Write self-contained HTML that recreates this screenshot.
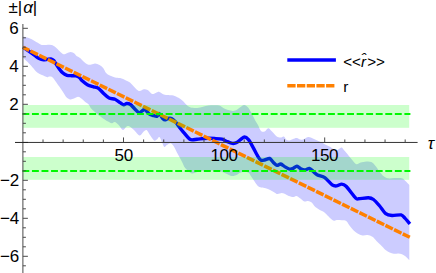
<!DOCTYPE html>
<html><head><meta charset="utf-8"><style>
html,body{margin:0;padding:0;background:#fff;}
body{width:436px;height:273px;overflow:hidden;position:relative;font-family:"Liberation Sans",sans-serif;color:#000;}
svg{position:absolute;left:0;top:0;}
.t{position:absolute;font-size:17px;line-height:17px;white-space:nowrap;}
</style></head><body>
<svg width="436" height="273" viewBox="0 0 436 273">
<path d="M22.90,36.60 C23.88,36.85 26.83,37.37 28.80,38.10 C30.77,38.83 32.73,39.95 34.70,41.00 C36.67,42.05 39.00,43.72 40.60,44.40 C42.20,45.08 43.08,45.05 44.30,45.10 C45.52,45.15 46.68,44.70 47.90,44.70 C49.12,44.70 50.37,44.73 51.60,45.10 C52.83,45.47 53.95,45.87 55.30,46.90 C56.65,47.93 58.35,50.07 59.70,51.30 C61.05,52.53 62.18,53.98 63.40,54.30 C64.62,54.62 65.78,53.58 67.00,53.20 C68.22,52.82 69.47,51.95 70.70,52.00 C71.93,52.05 73.52,52.93 74.40,53.50 C75.28,54.07 75.00,54.60 76.00,55.40 C77.00,56.20 79.05,57.20 80.40,58.30 C81.75,59.40 82.87,60.97 84.10,62.00 C85.33,63.03 86.58,64.08 87.80,64.50 C89.02,64.92 90.18,64.68 91.40,64.50 C92.62,64.32 93.75,63.33 95.10,63.40 C96.45,63.47 98.15,64.15 99.50,64.90 C100.85,65.65 102.10,66.55 103.20,67.90 C104.30,69.25 105.00,71.72 106.10,73.00 C107.20,74.28 108.32,74.87 109.80,75.60 C111.28,76.33 113.28,76.98 115.00,77.40 C116.72,77.82 118.27,77.60 120.10,78.10 C121.93,78.60 124.35,79.65 126.00,80.40 C127.65,81.15 128.85,81.73 130.00,82.60 C131.15,83.47 131.80,84.45 132.90,85.60 C134.00,86.75 135.48,88.60 136.60,89.50 C137.72,90.40 138.37,91.05 139.60,91.00 C140.83,90.95 142.67,89.37 144.00,89.20 C145.33,89.03 146.25,89.22 147.60,90.00 C148.95,90.78 150.75,93.42 152.10,93.90 C153.45,94.38 154.48,93.23 155.70,92.90 C156.92,92.57 158.05,91.65 159.40,91.90 C160.75,92.15 162.33,93.87 163.80,94.40 C165.27,94.93 166.60,94.93 168.20,95.10 C169.80,95.27 171.68,94.95 173.40,95.40 C175.12,95.85 176.92,96.87 178.50,97.80 C180.08,98.73 181.50,99.75 182.90,101.00 C184.30,102.25 185.62,104.22 186.90,105.30 C188.18,106.38 188.88,107.07 190.60,107.50 C192.32,107.93 195.12,108.02 197.20,107.90 C199.28,107.78 201.25,107.18 203.10,106.80 C204.95,106.42 206.58,105.85 208.30,105.60 C210.02,105.35 211.57,105.30 213.40,105.30 C215.23,105.30 217.58,105.12 219.30,105.60 C221.02,106.08 222.23,107.45 223.70,108.20 C225.17,108.95 226.53,109.65 228.10,110.10 C229.67,110.55 231.63,110.97 233.10,110.90 C234.57,110.83 235.53,110.43 236.90,109.70 C238.27,108.97 240.08,107.28 241.30,106.50 C242.52,105.72 243.07,104.83 244.20,105.00 C245.33,105.17 246.72,105.83 248.10,107.50 C249.48,109.17 251.27,112.75 252.50,115.00 C253.73,117.25 254.58,119.33 255.50,121.00 C256.42,122.67 257.08,123.35 258.00,125.00 C258.92,126.65 259.90,129.80 261.00,130.90 C262.10,132.00 263.38,132.05 264.60,131.60 C265.82,131.15 267.07,128.20 268.30,128.20 C269.53,128.20 270.53,130.17 272.00,131.60 C273.47,133.03 275.63,135.82 277.10,136.80 C278.57,137.78 279.68,137.55 280.80,137.50 C281.92,137.45 282.87,136.13 283.80,136.50 C284.73,136.87 285.47,139.05 286.40,139.70 C287.33,140.35 288.30,140.52 289.40,140.40 C290.50,140.28 291.78,139.42 293.00,139.00 C294.22,138.58 295.35,137.78 296.70,137.90 C298.05,138.02 299.87,139.52 301.10,139.70 C302.33,139.88 302.87,139.43 304.10,139.00 C305.33,138.57 307.03,137.18 308.50,137.10 C309.97,137.02 311.43,137.95 312.90,138.50 C314.37,139.05 315.83,139.72 317.30,140.40 C318.77,141.08 320.23,141.85 321.70,142.60 C323.17,143.35 324.63,144.15 326.10,144.90 C327.57,145.65 328.90,146.13 330.50,147.10 C332.10,148.07 334.35,150.33 335.70,150.70 C337.05,151.07 337.62,149.82 338.60,149.30 C339.58,148.78 340.68,147.43 341.60,147.60 C342.52,147.77 342.98,149.03 344.10,150.30 C345.22,151.57 346.92,153.55 348.30,155.20 C349.68,156.85 351.03,158.68 352.40,160.20 C353.77,161.72 355.13,163.90 356.50,164.30 C357.87,164.70 358.95,163.07 360.60,162.60 C362.25,162.13 364.60,161.58 366.40,161.50 C368.20,161.42 369.88,161.37 371.40,162.10 C372.92,162.83 374.13,164.30 375.50,165.90 C376.87,167.50 378.23,169.97 379.60,171.70 C380.97,173.43 382.32,175.20 383.70,176.30 C385.08,177.40 386.10,178.02 387.90,178.30 C389.70,178.58 392.17,178.00 394.50,178.00 C396.83,178.00 399.98,177.70 401.90,178.30 C403.82,178.90 404.77,180.48 406.00,181.60 C407.23,182.72 408.75,184.43 409.30,185.00 L409.30,260.30 C408.70,259.67 406.92,257.52 405.70,256.50 C404.48,255.48 403.23,254.70 402.00,254.20 C400.77,253.70 399.67,253.58 398.30,253.50 C396.93,253.42 395.23,253.88 393.80,253.70 C392.37,253.52 391.07,253.02 389.70,252.40 C388.33,251.78 387.10,251.23 385.60,250.00 C384.10,248.77 382.22,246.52 380.70,245.00 C379.18,243.48 377.88,242.27 376.50,240.90 C375.12,239.53 373.90,237.77 372.40,236.80 C370.90,235.83 369.15,235.33 367.50,235.10 C365.85,234.87 364.15,235.67 362.50,235.40 C360.85,235.13 359.12,234.37 357.60,233.50 C356.08,232.63 354.78,231.58 353.40,230.20 C352.02,228.82 350.50,226.73 349.30,225.20 C348.10,223.67 347.43,221.82 346.20,221.00 C344.97,220.18 343.48,220.47 341.90,220.30 C340.32,220.13 338.17,219.95 336.70,220.00 C335.23,220.05 334.45,221.17 333.10,220.60 C331.75,220.03 330.08,218.00 328.60,216.60 C327.12,215.20 325.67,213.30 324.20,212.20 C322.73,211.10 321.27,210.85 319.80,210.00 C318.33,209.15 316.75,208.33 315.40,207.10 C314.05,205.87 312.92,203.63 311.70,202.60 C310.48,201.57 309.32,201.08 308.10,200.90 C306.88,200.72 305.75,201.95 304.40,201.50 C303.05,201.05 301.35,199.12 300.00,198.20 C298.65,197.28 297.40,196.18 296.30,196.00 C295.20,195.82 294.63,197.10 293.40,197.10 C292.17,197.10 290.13,196.45 288.90,196.00 C287.67,195.55 287.17,194.88 286.00,194.40 C284.83,193.92 283.32,193.15 281.90,193.10 C280.48,193.05 278.73,194.22 277.50,194.10 C276.27,193.98 275.73,193.07 274.50,192.40 C273.27,191.73 271.57,190.80 270.10,190.10 C268.63,189.40 267.17,188.62 265.70,188.20 C264.23,187.78 262.65,188.02 261.30,187.60 C259.95,187.18 258.83,186.87 257.60,185.70 C256.37,184.53 255.00,182.18 253.90,180.60 C252.80,179.02 251.97,177.55 251.00,176.20 C250.03,174.85 249.82,173.12 248.10,172.50 C246.38,171.88 242.55,172.13 240.70,172.50 C238.85,172.87 238.47,174.12 237.00,174.70 C235.53,175.28 233.73,176.20 231.90,176.00 C230.07,175.80 227.98,174.30 226.00,173.50 C224.02,172.70 222.67,171.70 220.00,171.20 C217.33,170.70 213.17,170.57 210.00,170.50 C206.83,170.43 203.23,170.50 201.00,170.80 C198.77,171.10 198.07,171.85 196.60,172.30 C195.13,172.75 193.55,173.67 192.20,173.50 C190.85,173.33 189.73,172.28 188.50,171.30 C187.27,170.32 185.78,168.98 184.80,167.60 C183.82,166.22 183.33,164.47 182.60,163.00 C181.87,161.53 181.25,160.37 180.40,158.80 C179.55,157.23 178.47,155.45 177.50,153.60 C176.53,151.75 175.70,149.42 174.60,147.70 C173.50,145.98 172.13,143.78 170.90,143.30 C169.67,142.82 168.30,144.18 167.20,144.80 C166.10,145.42 165.15,147.37 164.30,147.00 C163.45,146.63 162.92,144.25 162.10,142.60 C161.28,140.95 160.27,137.60 159.40,137.10 C158.53,136.60 157.80,139.05 156.90,139.60 C156.00,140.15 155.22,141.25 154.00,140.40 C152.78,139.55 150.83,136.22 149.60,134.50 C148.37,132.78 147.58,130.58 146.60,130.10 C145.62,129.62 144.87,130.68 143.70,131.60 C142.53,132.52 141.22,135.85 139.60,135.60 C137.98,135.35 135.67,131.62 134.00,130.10 C132.33,128.58 130.83,127.10 129.60,126.50 C128.37,125.90 127.70,125.90 126.60,126.50 C125.50,127.10 124.22,130.23 123.00,130.10 C121.78,129.97 120.65,127.03 119.30,125.70 C117.95,124.37 116.13,122.52 114.90,122.10 C113.67,121.68 113.13,123.33 111.90,123.20 C110.67,123.07 108.97,122.10 107.50,121.30 C106.03,120.50 104.82,119.62 103.10,118.40 C101.38,117.18 99.15,115.60 97.20,114.00 C95.25,112.40 92.82,110.38 91.40,108.80 C89.98,107.22 89.77,105.68 88.70,104.50 C87.63,103.32 86.22,102.70 85.00,101.70 C83.78,100.70 82.55,99.33 81.40,98.50 C80.25,97.67 79.33,96.70 78.10,96.70 C76.87,96.70 75.30,98.05 74.00,98.50 C72.70,98.95 71.52,99.55 70.30,99.40 C69.08,99.25 67.92,98.82 66.70,97.60 C65.48,96.38 64.23,93.93 63.00,92.10 C61.77,90.27 60.58,88.47 59.30,86.60 C58.02,84.73 56.45,82.47 55.30,80.90 C54.15,79.33 53.38,77.93 52.40,77.20 C51.42,76.47 50.27,76.50 49.40,76.50 C48.53,76.50 48.43,77.45 47.20,77.20 C45.97,76.95 43.60,75.73 42.00,75.00 C40.40,74.27 38.82,73.65 37.60,72.80 C36.38,71.95 35.67,70.95 34.70,69.90 C33.73,68.85 33.02,67.85 31.80,66.50 C30.58,65.15 28.88,63.32 27.40,61.80 C25.92,60.28 23.65,58.13 22.90,57.40 Z" fill="#ccccff"/>
<path d="M23.00,47.10 C23.77,47.65 27.24,50.09 28.80,51.20 C30.36,52.31 33.33,54.44 34.70,55.40 C36.07,56.36 37.93,57.80 39.10,58.40 C40.27,59.00 42.42,59.77 43.50,59.90 C44.58,60.03 46.21,59.53 47.20,59.40 C48.19,59.27 50.02,58.75 50.90,58.90 C51.78,59.05 53.21,59.97 53.80,60.50 C54.39,61.03 54.61,61.85 55.30,62.90 C55.99,63.95 58.03,67.08 59.00,68.40 C59.97,69.72 61.53,71.88 62.60,72.80 C63.67,73.72 65.81,74.91 67.00,75.30 C68.19,75.69 70.31,75.63 71.50,75.70 C72.69,75.77 74.82,75.55 75.90,75.80 C76.98,76.05 78.80,76.97 79.60,77.60 C80.40,78.23 80.81,79.53 81.90,80.50 C82.99,81.47 86.24,84.06 87.80,84.90 C89.36,85.74 92.13,86.31 93.60,86.80 C95.07,87.29 97.43,87.68 98.80,88.60 C100.17,89.52 102.53,92.43 103.90,93.70 C105.27,94.97 107.62,97.37 109.10,98.10 C110.58,98.83 113.53,98.60 115.00,99.20 C116.47,99.80 118.93,101.85 120.10,102.60 C121.27,103.35 122.92,104.68 123.80,104.80 C124.68,104.92 125.82,103.54 126.70,103.50 C127.58,103.46 129.32,103.78 130.40,104.50 C131.48,105.22 133.63,107.79 134.80,108.90 C135.97,110.01 137.92,112.72 139.20,112.80 C140.48,112.88 143.03,109.33 144.40,109.50 C145.77,109.67 148.33,113.30 149.50,114.10 C150.67,114.90 152.21,115.21 153.20,115.50 C154.19,115.79 156.11,116.57 156.90,116.30 C157.69,116.03 158.31,113.21 159.10,113.50 C159.89,113.79 162.01,117.65 162.80,118.50 C163.59,119.35 164.32,119.90 165.00,119.90 C165.68,119.90 167.02,118.69 167.90,118.50 C168.78,118.31 170.61,118.09 171.60,118.50 C172.59,118.91 174.46,120.71 175.30,121.60 C176.14,122.49 176.77,123.73 177.90,125.20 C179.03,126.67 182.13,130.68 183.80,132.60 C185.47,134.52 188.64,138.72 190.40,139.60 C192.16,140.48 195.24,139.35 197.00,139.20 C198.76,139.05 202.03,138.63 203.60,138.50 C205.17,138.37 207.33,138.20 208.80,138.20 C210.27,138.20 212.84,138.37 214.60,138.50 C216.36,138.63 220.43,138.84 222.00,139.20 C223.57,139.56 225.03,140.64 226.40,141.20 C227.77,141.76 230.93,143.21 232.30,143.40 C233.67,143.59 235.13,143.44 236.70,142.60 C238.27,141.76 242.53,137.49 244.10,137.10 C245.67,136.71 247.33,138.37 248.50,139.70 C249.67,141.03 251.63,144.85 252.90,147.10 C254.17,149.35 256.92,154.84 258.00,156.60 C259.08,158.36 260.12,159.85 261.00,160.30 C261.88,160.75 263.44,160.24 264.60,160.00 C265.76,159.76 268.53,158.17 269.70,158.50 C270.87,158.83 272.43,161.58 273.40,162.50 C274.37,163.42 276.03,165.20 277.00,165.40 C277.97,165.60 279.62,163.80 280.70,164.00 C281.78,164.20 283.93,166.22 285.10,166.90 C286.27,167.58 288.42,168.90 289.50,169.10 C290.58,169.30 292.21,168.79 293.20,168.40 C294.19,168.01 295.82,166.11 296.90,166.20 C297.98,166.29 300.22,168.61 301.30,169.10 C302.38,169.59 303.92,169.99 305.00,169.90 C306.08,169.81 308.32,168.21 309.40,168.40 C310.48,168.59 312.02,170.42 313.10,171.30 C314.18,172.18 315.94,174.15 317.50,175.00 C319.06,175.85 322.84,176.38 324.80,177.70 C326.76,179.02 330.63,183.81 332.20,184.90 C333.77,185.99 335.33,186.01 336.60,185.90 C337.87,185.79 340.43,184.05 341.70,184.10 C342.97,184.15 344.23,184.43 346.10,186.30 C347.97,188.17 354.03,196.43 355.70,198.10 C357.37,199.77 356.92,198.85 358.60,198.80 C360.28,198.75 366.31,197.61 368.30,197.70 C370.29,197.79 371.98,198.39 373.50,199.50 C375.02,200.61 378.07,204.12 379.70,206.00 C381.33,207.88 384.05,212.33 385.70,213.60 C387.35,214.87 390.05,215.33 392.10,215.50 C394.15,215.67 399.39,214.55 401.10,214.90 C402.81,215.25 403.71,216.90 404.90,218.10 C406.09,219.30 409.32,223.13 410.00,223.90" fill="none" stroke="#0000ff" stroke-width="3.4" stroke-linejoin="round" stroke-linecap="butt"/>
<line x1="22.9" y1="47.3" x2="409.8" y2="237.3" stroke="#ff8000" stroke-width="3.5" stroke-dasharray="8.22 1.425" stroke-dashoffset="1.2"/>
<rect x="22.9" y="105" width="386.3" height="22.8" fill="#00ff00" fill-opacity="0.2"/>
<rect x="22.9" y="157" width="386.3" height="22.8" fill="#00ff00" fill-opacity="0.2"/>
<line x1="22.4" y1="114" x2="410.4" y2="114" stroke="#00f800" stroke-width="2.1" stroke-dasharray="6.9 2.65"/>
<line x1="22.4" y1="171" x2="410.4" y2="171" stroke="#00f800" stroke-width="2.1" stroke-dasharray="6.9 2.65"/>
<g stroke="#4a4a4a" stroke-width="1" fill="none">
<line x1="22.9" y1="24" x2="22.9" y2="273"/>
<line x1="22.9" y1="142.45" x2="417.6" y2="142.45" stroke="#333"/><line x1="15" y1="142.45" x2="28" y2="142.45" stroke="#222"/>
<line x1="43.02" y1="142.45" x2="43.02" y2="139.45"/><line x1="63.14" y1="142.45" x2="63.14" y2="139.45"/><line x1="83.26" y1="142.45" x2="83.26" y2="139.45"/><line x1="103.38" y1="142.45" x2="103.38" y2="139.45"/><line x1="123.50" y1="142.45" x2="123.50" y2="137.45"/><line x1="143.62" y1="142.45" x2="143.62" y2="139.45"/><line x1="163.74" y1="142.45" x2="163.74" y2="139.45"/><line x1="183.86" y1="142.45" x2="183.86" y2="139.45"/><line x1="203.98" y1="142.45" x2="203.98" y2="139.45"/><line x1="224.10" y1="142.45" x2="224.10" y2="137.45"/><line x1="244.22" y1="142.45" x2="244.22" y2="139.45"/><line x1="264.34" y1="142.45" x2="264.34" y2="139.45"/><line x1="284.46" y1="142.45" x2="284.46" y2="139.45"/><line x1="304.58" y1="142.45" x2="304.58" y2="139.45"/><line x1="324.70" y1="142.45" x2="324.70" y2="137.45"/><line x1="344.82" y1="142.45" x2="344.82" y2="139.45"/><line x1="364.94" y1="142.45" x2="364.94" y2="139.45"/><line x1="385.06" y1="142.45" x2="385.06" y2="139.45"/><line x1="405.18" y1="142.45" x2="405.18" y2="139.45"/><line x1="22.90" y1="265.80" x2="25.90" y2="265.80"/><line x1="22.90" y1="256.30" x2="27.90" y2="256.30"/><line x1="22.90" y1="246.80" x2="25.90" y2="246.80"/><line x1="22.90" y1="237.30" x2="25.90" y2="237.30"/><line x1="22.90" y1="227.80" x2="25.90" y2="227.80"/><line x1="22.90" y1="218.30" x2="27.90" y2="218.30"/><line x1="22.90" y1="208.80" x2="25.90" y2="208.80"/><line x1="22.90" y1="199.30" x2="25.90" y2="199.30"/><line x1="22.90" y1="189.80" x2="25.90" y2="189.80"/><line x1="22.90" y1="180.30" x2="27.90" y2="180.30"/><line x1="22.90" y1="170.80" x2="25.90" y2="170.80"/><line x1="22.90" y1="161.30" x2="25.90" y2="161.30"/><line x1="22.90" y1="151.80" x2="25.90" y2="151.80"/><line x1="22.90" y1="132.80" x2="25.90" y2="132.80"/><line x1="22.90" y1="123.30" x2="25.90" y2="123.30"/><line x1="22.90" y1="113.80" x2="25.90" y2="113.80"/><line x1="22.90" y1="104.30" x2="27.90" y2="104.30"/><line x1="22.90" y1="94.80" x2="25.90" y2="94.80"/><line x1="22.90" y1="85.30" x2="25.90" y2="85.30"/><line x1="22.90" y1="75.80" x2="25.90" y2="75.80"/><line x1="22.90" y1="66.30" x2="27.90" y2="66.30"/><line x1="22.90" y1="56.80" x2="25.90" y2="56.80"/><line x1="22.90" y1="47.30" x2="25.90" y2="47.30"/><line x1="22.90" y1="37.80" x2="25.90" y2="37.80"/><line x1="22.90" y1="28.30" x2="27.90" y2="28.30"/>
</g>
<line x1="287.3" y1="60" x2="335.9" y2="60" stroke="#0000ff" stroke-width="3.5"/>
<line x1="287.3" y1="85.7" x2="335" y2="85.7" stroke="#ff8000" stroke-width="3.5" stroke-dasharray="8.3 1.4"/>
</svg>
<div class="t" style="left:9.3px;top:19.5px;">6</div>
<div class="t" style="left:9.3px;top:57.5px;">4</div>
<div class="t" style="left:9.3px;top:95.5px;">2</div>
<div class="t" style="left:-0.1px;top:171.5px;">&minus;2</div>
<div class="t" style="left:-0.1px;top:209.5px;">&minus;4</div>
<div class="t" style="left:-0.1px;top:247.5px;">&minus;6</div>
<div class="t" style="left:114.4px;top:147.2px;">50</div>
<div class="t" style="left:210.6px;top:147.2px;letter-spacing:-0.5px;">100</div>
<div class="t" style="left:311px;top:147.2px;letter-spacing:-0.5px;">150</div>
<div class="t" style="left:8.5px;top:-0.7px;">&plusmn;|<i style="margin:0 0px 0 0.9px">&alpha;</i>|</div>
<div class="t" style="left:427.8px;top:134.8px;"><i>&tau;</i></div>
<div class="t" style="left:343.2px;top:53.4px;font-size:15.2px;">&lt;&lt;<i style="margin-right:1.2px">r&#770;</i>&gt;&gt;</div>
<div class="t" style="left:343.2px;top:78px;font-size:15.4px;">r</div>
</body></html>
